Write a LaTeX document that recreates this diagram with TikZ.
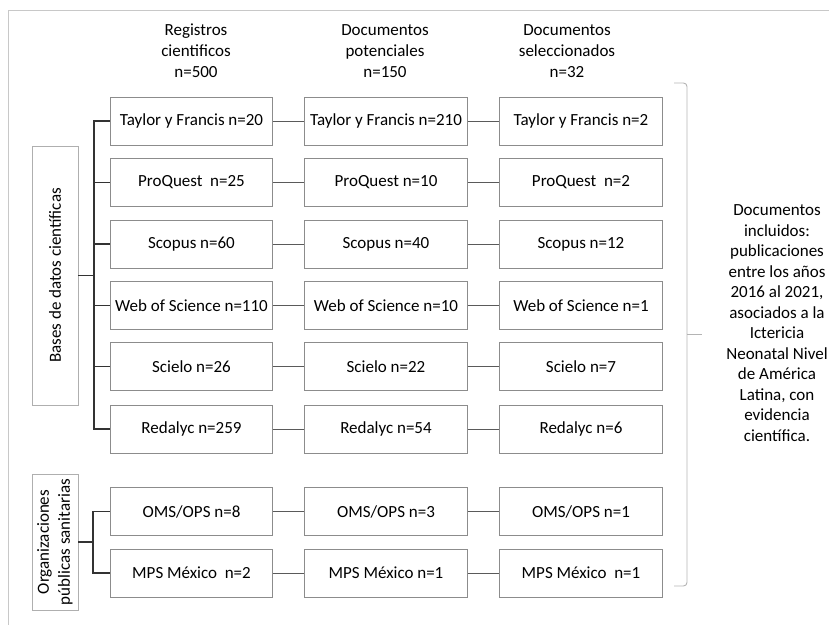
\documentclass[tikz,border=0pt]{standalone}
\usepackage{fontspec}
\setmainfont{Carlito}
\usetikzlibrary{positioning}
\definecolor{boxgray}{HTML}{8C8C8C}
\definecolor{linegray}{HTML}{5A5A5A}
\definecolor{framegray}{HTML}{C8C8C8}
\tikzset{
    block/.style = {
        draw=boxgray,
        shape=rectangle,
        minimum height=1.44cm,
        minimum width=4.88cm,
        inner sep=0pt,
        line width=0.7pt
    },
    group/.style = {
        draw=boxgray!70,
        shape=rectangle,
        rotate=90,
        minimum height=1.38cm,
        align=center,
        inner sep=0pt,
        line width=0.7pt
    },
    head/.style = {
        align=center,
        font=\fontsize{14.5}{17.9}\selectfont
    },
    note/.style = {
        align=center,
        font=\fontsize{14.5}{17.5}\selectfont
    },
    link/.style = {
        draw=linegray,
        line width=0.7pt
    },
    bus/.style = {
        draw=black!80,
        line width=0.9pt
    },
}

\begin{document}
\begin{tikzpicture}[x=0.03cm, y=-0.03cm, font=\fontsize{14.5}{17.9}\selectfont]
                \useasboundingbox (0,0) rectangle (829,625);
                \path[draw, framegray, line width=0.8pt] (8,625) -- (8,10) -- (829,10);

                \node[head] (hreg) at (196,51) {Registros\\cientificos\\n=500};
                \node[head] (hpot) at (385,51) {Documentos\\potenciales\\n=150};
                \node[head] (hsel) at (567,51) {Documentos\\seleccionados\\n=32};

                \node[block] (tf1) at (191.5,121) {Taylor y Francis n=20};
                \node[block] (tf2) at (386,121) {Taylor y Francis n=210};
                \node[block] (tf3) at (581,121) {Taylor y Francis n=2};
                \node[block] (pq1) at (191.5,182.5) {ProQuest\ \ n=25};
                \node[block] (pq2) at (386,182.5) {ProQuest n=10};
                \node[block] (pq3) at (581,182.5) {ProQuest\ \ n=2};
                \node[block] (sc1) at (191.5,244) {Scopus n=60};
                \node[block] (sc2) at (386,244) {Scopus n=40};
                \node[block] (sc3) at (581,244) {Scopus n=12};
                \node[block] (wos1) at (191.5,305.5) {Web of Science n=110};
                \node[block] (wos2) at (386,305.5) {Web of Science n=10};
                \node[block] (wos3) at (581,305.5) {Web of Science n=1};
                \node[block] (sci1) at (191.5,366.5) {Scielo n=26};
                \node[block] (sci2) at (386,366.5) {Scielo n=22};
                \node[block] (sci3) at (581,366.5) {Scielo n=7};
                \node[block] (red1) at (191.5,429) {Redalyc n=259};
                \node[block] (red2) at (386,429) {Redalyc n=54};
                \node[block] (red3) at (581,429) {Redalyc n=6};
                \node[block] (oms1) at (191.5,511.5) {OMS/OPS n=8};
                \node[block] (oms2) at (386,511.5) {OMS/OPS n=3};
                \node[block] (oms3) at (581,511.5) {OMS/OPS n=1};
                \node[block] (mps1) at (191.5,573) {MPS México\ \ n=2};
                \node[block] (mps2) at (386,573) {MPS México\ n=1};
                \node[block] (mps3) at (581,573) {MPS México\ \ n=1};

                \node[group, minimum width=7.77cm] (bdc) at (55,275.5) {Bases de datos científicas};
                \node[group, minimum width=4.08cm] (ops) at (55,542) {Organizaciones\\públicas sanitarias};
                \coordinate (bus1) at (94,275.5);
                \coordinate (bus2) at (93,542);

                \path[draw, bus] (bdc.south) -- (bus1);
                \path[draw, bus] (bus1) |- (tf1);
                \path[draw, bus] (bus1) |- (red1);
                \path[draw, bus] (94,182.5) -- (pq1);
                \path[draw, bus] (94,244) -- (sc1);
                \path[draw, bus] (94,305.5) -- (wos1);
                \path[draw, bus] (94,366.5) -- (sci1);
                \path[draw, bus] (ops.south) -- (bus2);
                \path[draw, bus] (bus2) |- (oms1);
                \path[draw, bus] (bus2) |- (mps1);

                \path[draw, link] (tf1) -- (tf2);
                \path[draw, link] (tf2) -- (tf3);
                \path[draw, link] (pq1) -- (pq2);
                \path[draw, link] (pq2) -- (pq3);
                \path[draw, link] (sc1) -- (sc2);
                \path[draw, link] (sc2) -- (sc3);
                \path[draw, link] (wos1) -- (wos2);
                \path[draw, link] (wos2) -- (wos3);
                \path[draw, link] (sci1) -- (sci2);
                \path[draw, link] (sci2) -- (sci3);
                \path[draw, link] (red1) -- (red2);
                \path[draw, link] (red2) -- (red3);
                \path[draw, link] (oms1) -- (oms2);
                \path[draw, link] (oms2) -- (oms3);
                \path[draw, link] (mps1) -- (mps2);
                \path[draw, link] (mps2) -- (mps3);

                % brace
                \path[draw, framegray!90!black, line width=0.8pt, rounded corners=3pt] (674,83) -| (687,334);
                \path[draw, framegray!90!black, line width=0.8pt, rounded corners=3pt] (687,334) |- (674,586);
                \coordinate (tip) at (687,334);
                \coordinate (tipend) at (702,334);
                \path[draw, framegray!90!black, line width=0.8pt] (tip) -- (tipend);
                \node[note] (incl) at (777,323) {Documentos\\incluidos:\\publicaciones\\entre los años\\2016 al 2021,\\asociados a la\\Ictericia\\Neonatal Nivel\\de América\\Latina, con\\evidencia\\científica.};
\end{tikzpicture}
\end{document}
